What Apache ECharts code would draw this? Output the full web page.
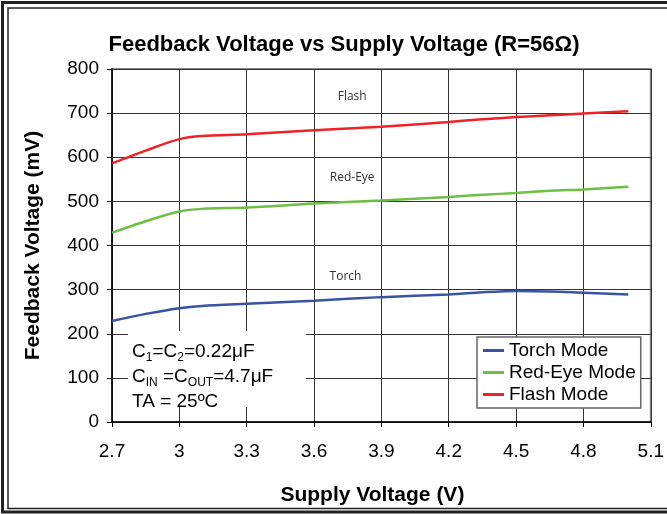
<!DOCTYPE html>
<html>
<head>
<meta charset="utf-8">
<script src="https://cdn.jsdelivr.net/npm/echarts@6/dist/echarts.min.js"></script>
<style>
html, body { margin: 0; padding: 0; background: #fff; }
#chart { width: 667px; height: 514px; }
</style>
</head>
<body>
<div id="chart"></div>
<script>
// supply voltage (V)
var supplyV = [2.7, 2.85, 3.0, 3.1, 3.3, 3.6, 3.9, 4.2, 4.35, 4.5, 4.65, 4.8, 5.0];
// feedback voltage (mV)
var torchMode = [229, 245, 258, 263, 268, 275, 283, 289, 294, 297, 296, 293, 289];
var redEyeMode = [429, 455, 477, 483, 486, 495, 502, 510, 515, 519, 524, 527, 533];
var flashMode = [586, 615, 641, 648, 652, 661, 669, 680, 686, 691, 695, 699, 704];
var seriesNames = ['Torch Mode', 'Red-Eye Mode', 'Flash Mode'];
var curveTags = ['Torch', 'Red-Eye', 'Flash'];
var tagPos = [[3.74, 329], [3.77, 553], [3.77, 737]];
var colors = ['#3953a4', '#6dbf45', '#ee2229'];

var font = '"Liberation Sans", Arial, sans-serif';

function pairs(ys) {
    var out = [];
    for (var i = 0; i < supplyV.length; i++) {
        out.push([supplyV[i], ys[i]]);
    }
    return out;
}

function makeSeries(idx, ys) {
    return {
        name: seriesNames[idx],
        type: 'line',
        data: pairs(ys),
        smooth: 0.3,
        showSymbol: false,
        symbol: 'none',
        lineStyle: { color: colors[idx], width: 2.5 },
        itemStyle: { color: colors[idx] },
        markPoint: {
            symbol: 'circle',
            symbolSize: 1,
            itemStyle: { color: 'rgba(0,0,0,0)' },
            label: {
                show: true,
                position: 'inside',
                formatter: curveTags[idx],
                color: '#333',
                fontFamily: '"Open Sans", sans-serif',
                fontSize: 12
            },
            data: [{ name: curveTags[idx], coord: tagPos[idx] }]
        }
    };
}

var myChart = echarts.init(document.getElementById('chart'), null, { renderer: 'canvas' });

var option = {
    backgroundColor: '#fff',
    animation: false,
    title: {
        text: 'Feedback Voltage vs Supply Voltage (R=56Ω)',
        left: 339,
        textAlign: 'center',
        top: 29,
        textStyle: { fontFamily: font, fontSize: 22, fontWeight: 'bold', color: '#000' }
    },
    legend: {
        orient: 'vertical',
        left: 477,
        top: 337,
        data: seriesNames,
        icon: 'rect',
        itemWidth: 21,
        itemHeight: 3,
        itemGap: 3,
        padding: [4, 5, 4, 6],
        backgroundColor: '#fff',
        borderColor: '#666',
        borderWidth: 1.5,
        textStyle: { fontFamily: font, fontSize: 19, color: '#000' }
    },
    grid: {
        left: 112,
        right: 15,
        top: 69,
        bottom: 92,
        show: true,
        borderColor: '#888',
        borderWidth: 2
    },
    xAxis: {
        type: 'value',
        min: 2.7,
        max: 5.1,
        interval: 0.3,
        name: 'Supply Voltage (V)',
        nameLocation: 'middle',
        nameGap: 63,
        nameTextStyle: { fontFamily: font, fontSize: 21, fontWeight: 'bold', color: '#000', padding: [0, 18, 0, 0] },
        axisLine: { show: true, lineStyle: { color: '#000', width: 1.5 } },
        axisTick: { show: true, length: 5, lineStyle: { color: '#000' } },
        axisLabel: {
            margin: 20,
            fontFamily: font,
            fontSize: 19,
            color: '#000',
            formatter: function (v) { return String(+v.toFixed(1)); }
        },
        splitLine: { show: true, lineStyle: { color: '#333', width: 1 } }
    },
    yAxis: {
        type: 'value',
        min: 0,
        max: 800,
        interval: 100,
        name: 'Feedback Voltage (mV)',
        nameLocation: 'middle',
        nameGap: 68,
        nameTextStyle: { fontFamily: font, fontSize: 21, fontWeight: 'bold', color: '#000' },
        axisLine: { show: true, lineStyle: { color: '#000', width: 1.5 } },
        axisTick: { show: true, length: 5, lineStyle: { color: '#000' } },
        axisLabel: { margin: 13, fontFamily: font, fontSize: 19, color: '#000' },
        splitLine: { show: true, lineStyle: { color: '#333', width: 1 } }
    },
    graphic: [
        // outer double frame
        { type: 'polyline', z: 100, shape: { points: [[667, 2.5], [2.5, 2.5], [2.5, 512], [667, 512]] },
          style: { stroke: '#222', lineWidth: 3, fill: null } },
        { type: 'polyline', z: 100, shape: { points: [[667, 8], [8, 8], [8, 508.5], [667, 508.5]] },
          style: { stroke: '#222', lineWidth: 1.5, fill: null } },
        // conditions box
        { type: 'rect', z: 100, shape: { x: 128, y: 331, width: 178, height: 76 }, style: { fill: '#fff', stroke: null } },
        {
            type: 'text',
            z: 101,
            x: 132,
            y: 339,
            style: {
                text: '{n|C}{s|1}{n|=C}{s|2}{n|=0.22μF}\n{n|C}{s|IN}{n| =C}{s|OUT}{n|=4.7μF}\n{n|TA = 25ºC}',
                fill: '#000',
                font: '19px ' + font,
                rich: {
                    n: { fontFamily: font, fontSize: 19, lineHeight: 25, color: '#000' },
                    s: { fontFamily: font, fontSize: 12, lineHeight: 20, verticalAlign: 'bottom', color: '#000' }
                }
            }
        }
    ],
    series: [
        makeSeries(0, torchMode),
        makeSeries(1, redEyeMode),
        makeSeries(2, flashMode)
    ]
};

myChart.setOption(option);
</script>
</body>
</html>
